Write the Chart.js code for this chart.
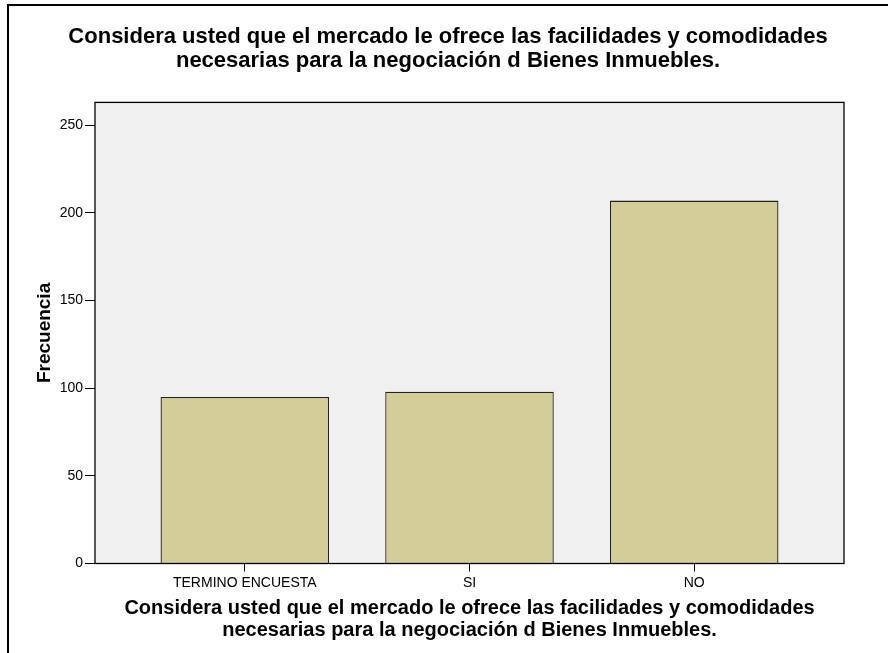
<!DOCTYPE html>
<html>
<head>
<meta charset="utf-8">
<script src="https://cdn.jsdelivr.net/npm/chart.js@4/dist/chart.umd.min.js"></script>
<style>
  html, body { margin: 0; padding: 0; background: #fff; }
  #wrap { width: 888px; height: 653px; }
</style>
</head>
<body>
<div id="wrap"><canvas id="barChart"></canvas></div>
<script>
// datos del grafico
const categorias = ["TERMINO ENCUESTA", "SI", "NO"];
const frecuencias = [95, 98, 207];
const yTicks = [0, 50, 100, 150, 200, 250];
const titulo = [
  "Considera usted que el mercado le ofrece las facilidades y comodidades",
  "necesarias para la negociación d Bienes Inmuebles.",
];

const fuente = "'Liberation Sans', Arial, sans-serif";

// fondo gris del area de grafico, caja y marco exterior
const marcoPlugin = {
  id: "marco",
  beforeDraw(chart) {
    const { ctx, chartArea: a } = chart;
    ctx.save();
    ctx.fillStyle = "#ffffff";
    ctx.fillRect(0, 0, chart.width, chart.height);
    ctx.fillStyle = "#000000";
    ctx.fillRect(7, 4, 2, chart.height);
    ctx.fillRect(7, 4, chart.width, 2);
    ctx.fillStyle = "#f0f0f0";
    ctx.fillRect(a.left, a.top, a.right - a.left, a.bottom - a.top);
    ctx.restore();
  },
  afterDatasetsDraw(chart) {
    const { ctx, chartArea: a } = chart;
    ctx.save();
    ctx.strokeStyle = "#000000";
    ctx.lineWidth = 1.3;
    ctx.strokeRect(a.left, a.top, a.right - a.left, a.bottom - a.top);
    ctx.restore();
  },
};

const ctx = document.getElementById("barChart");

new Chart(ctx, {
  type: "bar",
  data: {
    datasets: [
      {
        label: "Frecuencia",
        data: frecuencias.map((v, i) => ({ x: i, y: v })),
        backgroundColor: "#d3ce99",
        borderColor: "#222222",
        borderWidth: 1.3,
        categoryPercentage: 1,
        barPercentage: 0.75,
      },
    ],
  },
  options: {
    responsive: true,
    maintainAspectRatio: false,
    animation: false,
    layout: { padding: { left: 52, right: 44, top: 0, bottom: 0 } },
    plugins: {
      legend: { display: false },
      tooltip: { enabled: false },
      title: {
        display: true,
        text: titulo,
        color: "#000",
        font: { family: fuente, size: 22, weight: "bold", lineHeight: 1.1 },
        padding: { top: 25, bottom: 29 },
      },
    },
    scales: {
      x: {
        type: "linear",
        offset: false,
        min: -2 / 3,
        max: 8 / 3,
        afterBuildTicks: (axis) => {
          axis.ticks = categorias.map((_, i) => ({ value: i }));
        },
        afterFit: (axis) => {
          axis.height = 89.5;
        },
        ticks: {
          callback: (v) => categorias[v],
          color: "#000",
          font: { family: fuente, size: 14 },
          padding: 3,
          maxRotation: 0,
        },
        grid: {
          offset: false,
          drawOnChartArea: false,
          drawTicks: true,
          tickLength: 8,
          color: "#000",
        },
        border: { display: false },
        title: {
          display: true,
          text: titulo,
          color: "#000",
          font: { family: fuente, size: 20, weight: "bold", lineHeight: 1.1 },
          padding: { top: 0, bottom: 12 },
        },
      },
      y: {
        min: 0,
        max: 263,
        afterBuildTicks: (axis) => {
          axis.ticks = yTicks.map((v) => ({ value: v }));
        },
        afterFit: (axis) => {
          axis.width = 43;
        },
        ticks: {
          color: "#000",
          font: { family: fuente, size: 14 },
          padding: 2,
        },
        grid: {
          drawOnChartArea: false,
          drawTicks: true,
          tickLength: 10,
          color: "#000",
        },
        border: { display: false },
        title: {
          display: true,
          text: "Frecuencia",
          color: "#000",
          font: { family: fuente, size: 19, weight: "bold" },
          padding: { top: -19, bottom: 0 },
        },
      },
    },
  },
  plugins: [marcoPlugin],
});
</script>
</body>
</html>
